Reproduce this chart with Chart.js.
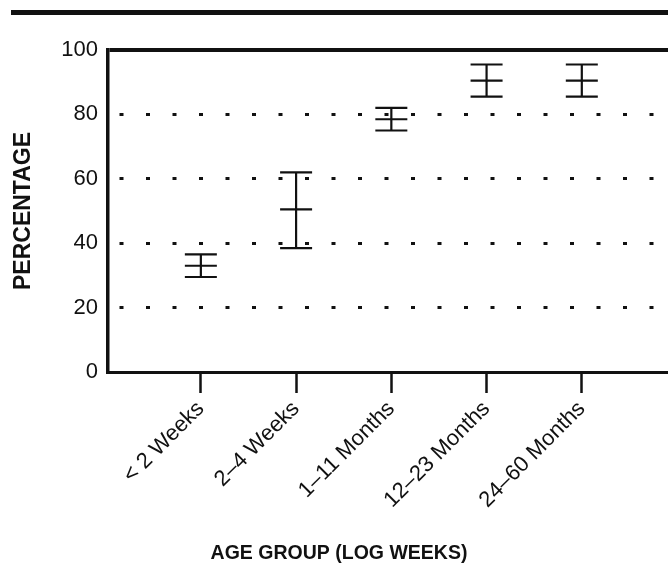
<!DOCTYPE html>
<html>
<head>
<meta charset="utf-8">
<script src="https://cdn.jsdelivr.net/npm/chart.js@4"></script>
<style>
  body { margin: 0; background: #fff; }
  #wrap { position: relative; width: 668px; height: 569px; overflow: hidden; }
  #rule { position: absolute; left: 11px; right: 0; top: 10px; height: 5px; background: #111; }
</style>
</head>
<body>
<div id="wrap">
  <div id="rule"></div>
  <canvas id="ageChart" width="668" height="569"></canvas>
</div>
<script>
const categories = ['< 2 Weeks', '2–4 Weeks', '1–11 Months', '12–23 Months', '24–60 Months'];
const means = [33, 50.5, 78.5, 90.5, 90.5];
const upper = [36.5, 62, 82, 95.5, 95.5];
const lower = [29.5, 38.5, 75, 85.5, 85.5];
const yTicks = [0, 20, 40, 60, 80, 100];

const ink = '#111';

// caps and mean marks share a point style, verticals are short lines
const capData = (vals) => vals.map((v, i) => ({ x: i + 1, y: v }));
const capSet = (vals) => ({
  data: capData(vals),
  pointStyle: 'line',
  radius: 16,
  hoverRadius: 16,
  borderColor: ink,
  borderWidth: 2.2,
  showLine: false
});

const verticals = categories.map((c, i) => ({
  data: [{ x: i + 1, y: lower[i] }, { x: i + 1, y: upper[i] }],
  showLine: true,
  borderColor: ink,
  borderWidth: 2.2,
  pointRadius: 0
}));

document.addEventListener('DOMContentLoaded', () => {
  const ctx = document.getElementById('ageChart');
  if (!ctx) return;

  new Chart(ctx, {
    type: 'scatter',
    data: {
      datasets: [capSet(upper), capSet(means), capSet(lower), ...verticals]
    },
    options: {
      responsive: false,
      animation: false,
      layout: { autoPadding: false, padding: { left: 10, top: 50, right: 0, bottom: 0 } },
      plugins: {
        legend: { display: false },
        tooltip: { enabled: false },
        title: {
          display: true,
          position: 'bottom',
          text: 'AGE GROUP (LOG WEEKS)',
          color: ink,
          font: { family: 'Liberation Sans', size: 19.5, weight: 'bold' },
          padding: { top: 0, bottom: 4 }
        }
      },
      scales: {
        x: {
          type: 'linear',
          min: 0.025,
          max: 5.905,
          afterBuildTicks: (axis) => { axis.ticks = categories.map((c, i) => ({ value: i + 1 })); },
          afterFit: (axis) => {
            axis.height = 169.6;
            axis.paddingLeft = 0;
            axis.paddingRight = 0;
          },
          ticks: {
            callback: (v) => categories[v - 1],
            minRotation: 45,
            maxRotation: 45,
            autoSkip: false,
            color: ink,
            padding: 3,
            font: { family: 'Liberation Sans', size: 22 }
          },
          grid: {
            drawOnChartArea: false,
            drawTicks: true,
            tickLength: 21,
            tickWidth: 2.5,
            tickColor: ink
          },
          border: { color: ink, width: 3 }
        },
        y: {
          min: 0,
          max: 100,
          afterBuildTicks: (axis) => { axis.ticks = yTicks.map(v => ({ value: v })); },
          afterFit: (axis) => {
            axis.width = 98;
            axis.paddingTop = 0;
            axis.paddingBottom = 0;
          },
          ticks: {
            color: ink,
            padding: 10,
            font: { family: 'Liberation Sans', size: 22 }
          },
          grid: {
            drawTicks: false,
            color: (c) => (c.tick && c.tick.value === 0) ? 'rgba(0,0,0,0)' : ink,
            lineWidth: (c) => (c.tick && c.tick.value === 100) ? 4 : 3
          },
          border: {
            color: ink,
            width: 3.5,
            dash: (c) => (c.tick && c.tick.value === 100) ? [] : [4, 22.5],
            dashOffset: 16.5
          },
          title: {
            display: true,
            text: 'PERCENTAGE',
            color: ink,
            font: { family: 'Liberation Sans', size: 23, weight: 'bold' },
            padding: { top: 0, bottom: 0 }
          }
        }
      }
    }
  });
});
</script>
</body>
</html>
